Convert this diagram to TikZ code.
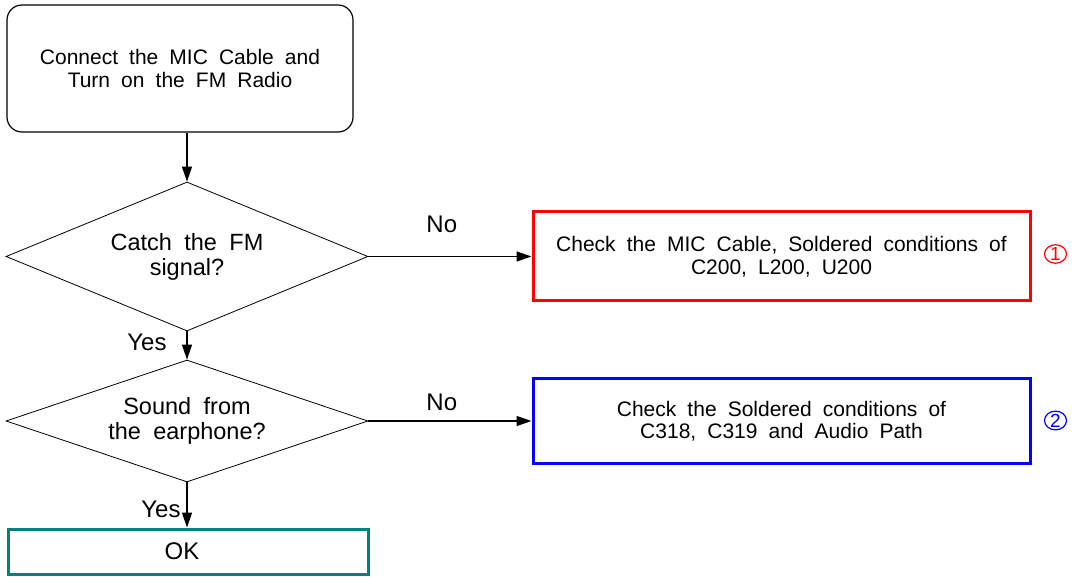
\documentclass[tikz,border=0pt]{standalone}
\usepackage{fontspec}
\setmainfont{Liberation Sans}
\newfontfamily\widefont[WordSpace=1.9]{Liberation Sans}
\usetikzlibrary{shapes.geometric,arrows.meta}
\definecolor{teal2}{RGB}{0,128,128}
\begin{document}
\begin{tikzpicture}[x=1pt,y=-1pt,
  boxtext/.style={font=\widefont\fontsize{21}{22.5}\selectfont, align=center},
  dtext/.style={font=\widefont\fontsize{23.5}{25}\selectfont, align=center},
  lbl/.style={font=\fontsize{24}{26}\selectfont},
  startbox/.style={draw, line width=1.2pt, rounded corners=15pt, minimum width=346pt, minimum height=127pt, inner sep=0pt, boxtext},
  decision/.style={draw, line width=0.8pt, diamond, aspect=2.43, minimum width=362pt, inner sep=0pt, dtext},
  checkbox/.style={draw, line width=3pt, minimum width=497pt, inner sep=0pt, boxtext},
  arr/.style={line width=1.3pt, -{Triangle[length=15pt,width=10pt]}},
  circnum/.style={ellipse, draw, line width=1.2pt, minimum width=22pt, minimum height=18pt, inner sep=0pt, font=\fontsize{19}{19}\selectfont}
]
\useasboundingbox (0,0) rectangle (1076,577);
\node[startbox] (start) at (180,68.5) {Connect the MIC Cable and\\Turn on the FM Radio};
\node[decision, minimum height=149pt] (d1) at (187,256.5) {Catch the FM\\signal?};
\node[decision, minimum height=122pt] (d2) at (187,421) {Sound from\\the earphone?};
\node[checkbox, draw=red, minimum height=89pt] (c1) at (781.5,256.5) {Check the MIC Cable, Soldered conditions of\\C200, L200, U200};
\node[checkbox, draw=blue, minimum height=85pt] (c2) at (781.5,421) {Check the Soldered conditions of\\C318, C319 and Audio Path};
\node[draw=teal2, line width=3pt, minimum width=360pt, minimum height=45pt, inner sep=0pt, lbl] (ok) at (188,551.5) {\hspace*{-12pt}OK};
\node[circnum, draw=red, text=red] (n1) at (1055.5,254) {1};
\node[circnum, draw=blue, text=blue] (n2) at (1055.5,420.5) {2};
\draw[arr] (start.south -| d1.north) -- (d1.north);
\draw[arr] (d1.east) -- node[lbl, above=20pt, pos=0.45] (no1) {No} (c1.west);
\draw[arr] (d1.south) -- (d2.north);
\node[lbl] (yes1) at (147,342) {Yes};
\draw[arr] (d2.east) -- node[lbl, above=6pt, pos=0.45] (no2) {No} (c2.west);
\draw[arr] (d2.south) -- (ok.north -| d2.south);
\node[lbl] (yes2) at (161,509) {Yes};
\end{tikzpicture}
\end{document}
